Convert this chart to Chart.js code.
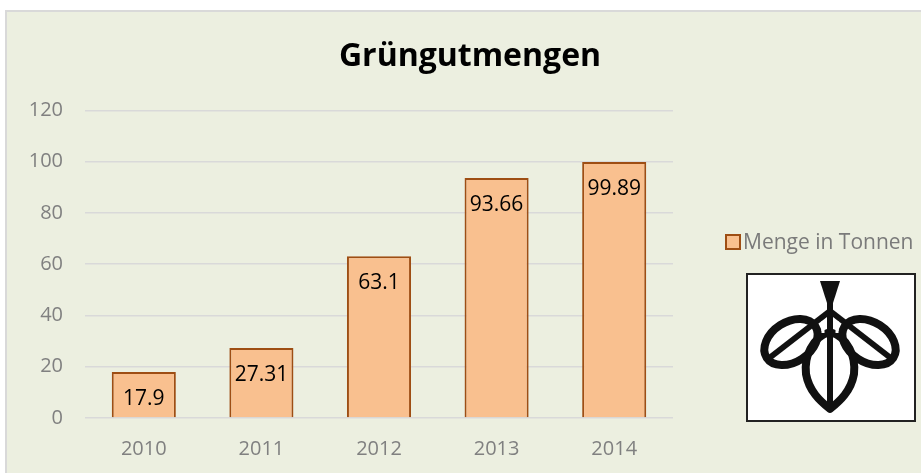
<!DOCTYPE html>
<html>
<head>
<meta charset="utf-8">
<script src="https://cdn.jsdelivr.net/npm/chart.js@4/dist/chart.umd.min.js"></script>
<style>
  html, body { margin: 0; padding: 0; background: #fff; }
  body { width: 921px; height: 473px; position: relative; overflow: hidden; font-family: "Open Sans", sans-serif; }
  #frame { position: absolute; left: 5px; top: 10px; width: 940px; height: 480px; background: #ECEFE0; border: 2px solid #D9D9D9; box-sizing: border-box; }
  #mengen { position: absolute; left: 0; top: 0; }
  #logo { position: absolute; left: 746px; top: 273px; width: 170px; height: 149px; background: #fff; border: 2px solid #222; box-sizing: border-box; }
</style>
</head>
<body>
<div id="frame"></div>
<canvas id="mengen" width="921" height="473"></canvas>
<div id="logo">
  <svg width="166" height="145" viewBox="0 0 166 145">
    <g fill="none" stroke="#111" stroke-width="8" stroke-linejoin="round">
      <ellipse cx="43" cy="67" rx="29" ry="20" transform="rotate(-33 43 67)"/>
      <ellipse cx="121" cy="67" rx="29" ry="20" transform="rotate(33 121 67)"/>
      <path d="M82 57 C 100 62, 108 82, 106 99 C 103 116, 92 126, 82 134 C 72 126, 61 116, 58 99 C 56 82, 64 62, 82 57 Z"/>
    </g>
    <g stroke="#111" stroke-width="6">
      <line x1="82" y1="25" x2="82" y2="132"/>
      <line x1="20" y1="84" x2="82" y2="36"/>
      <line x1="144" y1="84" x2="82" y2="36"/>
    </g>
    <polygon points="72,6 92,6 85,28 79,28" fill="#111"/>
    <g stroke="#fff" stroke-width="3">
      <line x1="75" y1="46" x2="75" y2="58"/>
      <line x1="89" y1="46" x2="89" y2="58"/>
    </g>
  </svg>
</div>
<script>
// Grüngutmengen 2010-2014
const years = ['2010', '2011', '2012', '2013', '2014'];
const tonnes = [17.9, 27.31, 63.1, 93.66, 99.89];
const seriesName = 'Menge in Tonnen';
const yMax = 120;
const yStep = 20;

const fill = '#F9C08F';
const edge = '#9E4E14';
const gridColor = '#D9D9D9';
const tickColor = '#808080';
const font = '"Open Sans", sans-serif';

// value labels just under the top of each bar
const barLabels = {
  id: 'barLabels',
  afterDatasetsDraw(chart) {
    const ctx = chart.ctx;
    const meta = chart.getDatasetMeta(0);
    ctx.save();
    ctx.font = '21px ' + font;
    ctx.fillStyle = '#000';
    ctx.textAlign = 'center';
    ctx.textBaseline = 'middle';
    meta.data.forEach((bar, i) => {
      ctx.fillText(String(chart.data.datasets[0].data[i]), bar.x, bar.y + 27);
    });
    ctx.restore();
  }
};

// legend entry on the right side
const sideLegend = {
  id: 'sideLegend',
  afterDraw(chart) {
    const ctx = chart.ctx;
    const ds = chart.data.datasets[0];
    ctx.save();
    ctx.fillStyle = ds.backgroundColor;
    ctx.strokeStyle = ds.borderColor;
    ctx.lineWidth = 2;
    ctx.fillRect(726, 235, 14, 14);
    ctx.strokeRect(726, 235, 14, 14);
    ctx.font = '21px ' + font;
    ctx.fillStyle = '#7A7A7A';
    ctx.textBaseline = 'middle';
    ctx.fillText(ds.label, 743, 243);
    ctx.restore();
  }
};

new Chart(document.getElementById('mengen'), {
  type: 'bar',
  data: {
    labels: years,
    datasets: [{
      label: seriesName,
      data: tonnes,
      backgroundColor: fill,
      borderColor: edge,
      borderWidth: 2,
      borderSkipped: 'bottom',
      barPercentage: 0.545,
      categoryPercentage: 1
    }]
  },
  options: {
    responsive: false,
    animation: false,
    events: [],
    layout: { padding: { left: 19, right: 0, top: 0, bottom: 0 } },
    plugins: {
      legend: { display: false },
      tooltip: { enabled: false },
      title: {
        display: true,
        text: 'Grüngutmengen',
        color: '#000',
        font: { family: font, size: 32, weight: 'bold' },
        padding: { top: 38, bottom: 34 }
      }
    },
    scales: {
      x: {
        grid: { display: false },
        border: { display: false },
        ticks: { color: tickColor, font: { family: font, size: 20 }, padding: 11 },
        afterFit(scale) { scale.height = 55; }
      },
      y: {
        min: 0,
        max: yMax,
        ticks: { stepSize: yStep, color: tickColor, font: { family: font, size: 20 }, padding: 22 },
        grid: { color: gridColor, lineWidth: 1.5, drawTicks: false },
        border: { display: false },
        afterFit(scale) { scale.width = 66; }
      },
      // empty space on the right for legend and logo
      side: {
        position: 'right',
        min: 0,
        max: 1,
        grid: { display: false },
        border: { display: false },
        ticks: { display: false },
        afterFit(scale) { scale.width = 248; }
      }
    }
  },
  plugins: [barLabels, sideLegend]
});
</script>
</body>
</html>
